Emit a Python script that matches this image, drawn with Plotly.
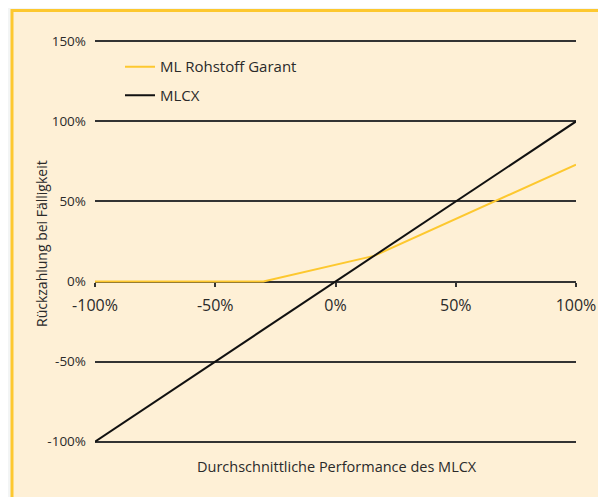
import plotly.graph_objects as go

perf_x = [-100, 100]
mlcx_y = [-100, 100]
garant_x = [-100, -30, 16, 100]
garant_y = [0, 0, 16, 73]
x_ticks = [-100, -50, 0, 50, 100]
x_labels = ["-100%", "-50%", "0%", "50%", "100%"]
y_ticks = [-100, -50, 0, 50, 100, 150]
y_labels = ["-100%", "-50%", "0%", "50%", "100%", "150%"]

FONT = "Open Sans"
TXT = "#2a2a2a"
OFF = 8  # page body margin
W, H = 606 - OFF, 497 - OFF
yr = [-101.5, 151.5]
# reference pixel geometry of the plot area
PL, PR, PT, PB = 95, 576, 41 - 1.5 * 1.6, 442 + 1.5 * 1.6
ML = PL - OFF
MR = W - (PR - OFF)
MT = PT - OFF
MB = H - (PB - OFF)

fig = go.Figure()
fig.add_trace(go.Scatter(x=garant_x, y=garant_y, mode="lines", name="ML Rohstoff Garant",
                         line=dict(color="#fdc82f", width=2), legendgroup="a"))
fig.add_trace(go.Scatter(x=perf_x, y=mlcx_y, mode="lines", name="MLCX",
                         line=dict(color="#111111", width=2), legendgroup="b"))

pw = W - ML - MR
ph = H - MT - MB
def px_x(px):
    return (px - OFF - ML) / pw
def px_y(py):
    return (H - MB - (py - OFF)) / ph

fig.add_shape(type="rect", xref="paper", yref="paper",
              x0=px_x(12), x1=px_x(660),
              y0=px_y(560), y1=px_y(10),
              fillcolor="#fef0d6", line=dict(color="#fdc82f", width=3), layer="below")

fig.update_layout(
    width=W, height=H,
    margin=dict(l=ML, r=MR, t=MT, b=MB, autoexpand=False),
    paper_bgcolor="#f3f5f5",
    plot_bgcolor="rgba(0,0,0,0)",
    font=dict(family=FONT, color=TXT, size=13),
    showlegend=True,
    legend=dict(x=px_x(120), y=px_y(50), xanchor="left", yanchor="top",
                bgcolor="rgba(0,0,0,0)", font=dict(size=15, family=FONT, color=TXT),
                tracegroupgap=6, traceorder="grouped"),
    xaxis=dict(range=[-100, 100], tickvals=x_ticks, ticktext=x_labels, showgrid=False,
               zeroline=False, anchor="free", position=(0 - yr[0]) / (yr[1] - yr[0]),
               ticks="outside", ticklen=4, tickcolor="#333333", tickwidth=1.5,
               ticklabelstandoff=5,
               tickfont=dict(size=16, family=FONT, color=TXT), showline=False,
               automargin=False),
    yaxis=dict(range=yr, tickvals=y_ticks, ticktext=y_labels, showgrid=True,
               gridcolor="#333333", gridwidth=1.5, zeroline=False,
               ticks="", ticklabelstandoff=8, automargin=False,
               tickfont=dict(size=13.5, family=FONT, color=TXT)),
)
fig.add_annotation(text="Durchschnittliche Performance des MLCX", xref="paper", yref="paper",
                   x=px_x(337), y=px_y(467), showarrow=False,
                   xanchor="center", yanchor="middle",
                   font=dict(size=14.5, family=FONT, color=TXT))
fig.add_annotation(text="Rückzahlung bei Fälligkeit", xref="paper", yref="paper",
                   x=px_x(42), y=px_y(244), showarrow=False, textangle=-90,
                   xanchor="center", yanchor="middle",
                   font=dict(size=14, family=FONT, color=TXT))
fig.write_html("out.html")
